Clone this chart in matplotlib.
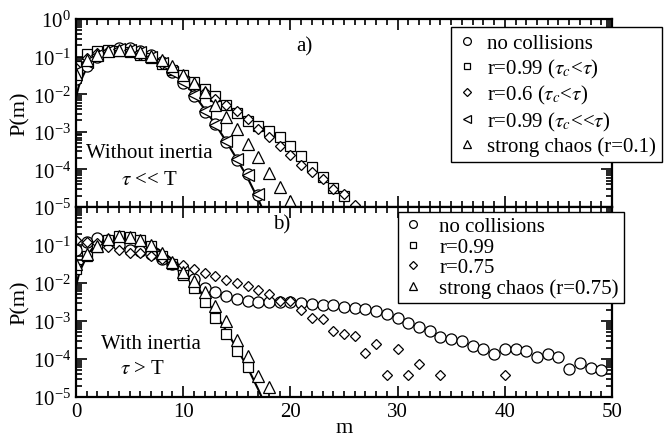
import matplotlib
matplotlib.use('Agg')
import matplotlib.pyplot as plt
from matplotlib.ticker import LogLocator, MultipleLocator, NullFormatter

plt.rcParams['font.family'] = ['Liberation Serif', 'DejaVu Serif']
plt.rcParams['mathtext.fontset'] = 'stix'

# values are log10 P(m)
curve_m = [0, 0.25, 0.5, 1, 1.5, 2, 2.5, 3, 4, 5, 6, 7, 8, 9, 10, 11, 12, 13, 14, 15, 16, 17, 17.4]
curve_lp = [-2.08, -1.8, -1.6, -1.3, -1.1, -0.97, -0.89, -0.84, -0.8, -0.81, -0.88, -1.0, -1.17,
            -1.38, -1.65, -2.0, -2.4, -2.8, -3.25, -3.72, -4.22, -4.8, -5.05]

# panel a)
a_circ = [-1.6, -1.25, -1.0, -0.85, -0.78, -0.78, -0.85, -0.97, -1.15, -1.4, -1.7, -2.05, -2.48,
          -2.8, -3.26, -3.75, -4.12, -4.68]
a_sq = [-1.25, -0.93, -0.85, -0.83, -0.85, -0.88, -0.95, -1.05, -1.2, -1.35, -1.5, -1.68, -1.86,
        -2.05, -2.3, -2.5, -2.7, -2.85, -2.97, -3.15, -3.37, -3.65, -3.94, -4.2, -4.5, -4.72]
a_dia = [-1.3, -1.05, -0.9, -0.85, -0.85, -0.87, -0.95, -1.05, -1.2, -1.35, -1.55, -1.75, -1.95,
         -2.12, -2.3, -2.45, -2.66, -2.93, -3.15, -3.39, -3.62, -3.88, -4.07, -4.26, -4.52, -4.65, -4.95]
a_left = [-1.4, -1.15, -0.95, -0.85, -0.8, -0.82, -0.88, -1.0, -1.17, -1.4, -1.68, -2.02, -2.45,
          -2.82, -3.25, -3.72, -4.15, -4.65]
a_tri = [-1.45, -1.1, -0.95, -0.85, -0.82, -0.82, -0.88, -0.98, -1.08, -1.24, -1.5, -1.7, -1.95,
         -2.3, -2.6, -2.93, -3.32, -3.68, -4.1, -4.48, -4.83]

# panel b)
b_circ = [-1.12, -0.92, -0.82, -0.86, -1.0, -1.12, -1.17, -1.25, -1.36, -1.5, -1.62, -1.9, -2.12,
          -2.25, -2.34, -2.43, -2.47, -2.51, -2.51, -2.51, -2.51, -2.53, -2.56, -2.57, -2.58, -2.62,
          -2.65, -2.69, -2.73, -2.82, -2.93, -3.04, -3.17, -3.26, -3.43, -3.47, -3.52, -3.65, -3.75,
          -3.86, -3.73, -3.73, -3.78, -3.95, -3.86, -3.95, -4.27, -4.10, -4.24, -4.30]
b_sq = [-1.63, -1.3, -1.04, -0.86, -0.77, -0.78, -0.86, -1.02, -1.28, -1.5, -1.78, -2.12, -2.51,
        -2.91, -3.34, -3.8, -4.22]
b_dia_m = list(range(33)) + [34, 40]
b_dia = [-0.86, -0.92, -0.95, -1.04, -1.12, -1.2, -1.22, -1.28, -1.38, -1.47, -1.53, -1.64, -1.73,
         -1.82, -1.92, -1.99, -2.08, -2.18, -2.30, -2.47, -2.47, -2.71, -2.93, -2.95, -3.26, -3.34,
         -3.40, -3.84, -3.60, -4.43, -3.75, -4.43, -4.14, -4.43, -4.43]
b_tri = [-1.5, -1.25, -1.02, -0.85, -0.77, -0.8, -0.86, -0.99, -1.22, -1.45, -1.7, -1.95, -2.25,
         -2.6, -3.0, -3.5, -3.91, -4.44, -4.75]


def pw(v):
    return [10 ** x for x in v]


def mk(ax, m, lp, marker, ms, label):
    ax.plot(m, pw(lp), linestyle='none', marker=marker, ms=ms, mfc='white', mec='black',
            mew=0.9, label=label, clip_on=True)


def style(ax):
    ax.set_yscale('log')
    ax.set_xlim(0, 50)
    ax.set_ylim(1e-5, 1)
    ax.xaxis.set_major_locator(MultipleLocator(10))
    ax.xaxis.set_minor_locator(MultipleLocator(1))
    ax.yaxis.set_major_locator(LogLocator(base=10, numticks=10))
    ax.yaxis.set_minor_locator(LogLocator(base=10, subs=range(2, 10), numticks=10))
    ax.yaxis.set_minor_formatter(NullFormatter())
    ax.tick_params(which='both', direction='in', top=True, right=True, labelsize=15, width=1.2)
    ax.tick_params(which='major', length=8)
    ax.tick_params(which='minor', length=4)
    for s in ax.spines.values():
        s.set_linewidth(1.6)
    ax.set_ylabel('P(m)', fontsize=16, labelpad=2)


fig = plt.figure(figsize=(6.72, 4.39), dpi=100)
ax1 = fig.add_axes([0.1131, 0.5262, 0.7976, 0.4282])
ax2 = fig.add_axes([0.1131, 0.0934, 0.7976, 0.4328])

m = list(range(60))
ax1.plot(curve_m, pw(curve_lp), color='black', lw=1.5)
mk(ax1, m[:len(a_circ)], a_circ, 'o', 8, 'no collisions')
mk(ax1, m[:len(a_sq)], a_sq, 's', 7, r'r=0.99 ($\tau_c$<$\tau$)')
mk(ax1, m[:len(a_dia)], a_dia, 'D', 5.6, r'r=0.6 ($\tau_c$<$\tau$)')
mk(ax1, m[:len(a_left)], a_left, '<', 8, r'r=0.99 ($\tau_c$<<$\tau$)')
mk(ax1, m[:len(a_tri)], a_tri, '^', 8.5, 'strong chaos (r=0.1)')
style(ax1)
ax1.tick_params(labelbottom=False)
ax1.text(0.41, 0.856, 'a)', transform=ax1.transAxes, fontsize=15, va='center')
ax1.text(0.137, 0.265, 'Without inertia', transform=ax1.transAxes, fontsize=15, ha='center')
ax1.text(0.137, 0.125, r'$\tau$ << T', transform=ax1.transAxes, fontsize=15, ha='center')
leg1 = ax1.legend(loc='upper left', bbox_to_anchor=(0.6707, 0.9355), bbox_transform=fig.transFigure,
                  fontsize=15, markerscale=0.7, labelspacing=0.17, handlelength=1.0,
                  handletextpad=0.45, borderpad=0.3, borderaxespad=0, fancybox=False,
                  framealpha=1, edgecolor='black')
leg1.get_frame().set_linewidth(1.0)

ax2.plot(curve_m, pw(curve_lp), color='black', lw=1.5)
mk(ax2, m[:len(b_circ)], b_circ, 'o', 8, 'no collisions')
mk(ax2, m[:len(b_sq)], b_sq, 's', 7, 'r=0.99')
mk(ax2, b_dia_m, b_dia, 'D', 5.6, 'r=0.75')
mk(ax2, m[:len(b_tri)], b_tri, '^', 8.5, 'strong chaos (r=0.75)')
style(ax2)
ax2.set_yticks([1e-5, 1e-4, 1e-3, 1e-2, 1e-1])
ax2.set_xlabel('m', fontsize=16, labelpad=-2)
ax2.text(0.368, 0.91, 'b)', transform=ax2.transAxes, fontsize=15, va='center')
ax2.text(0.14, 0.26, 'With inertia', transform=ax2.transAxes, fontsize=15, ha='center')
ax2.text(0.125, 0.125, r'$\tau$ > T', transform=ax2.transAxes, fontsize=15, ha='center')
leg2 = ax2.legend(loc='upper left', bbox_to_anchor=(0.5918, 0.5155), bbox_transform=fig.transFigure,
                  fontsize=15, markerscale=0.7, labelspacing=0.04, handlelength=1.0,
                  handletextpad=0.75, borderpad=0.25, borderaxespad=0, fancybox=False,
                  framealpha=1, edgecolor='black')
leg2.get_frame().set_linewidth(1.0)

fig.savefig('out.png', dpi=100)
